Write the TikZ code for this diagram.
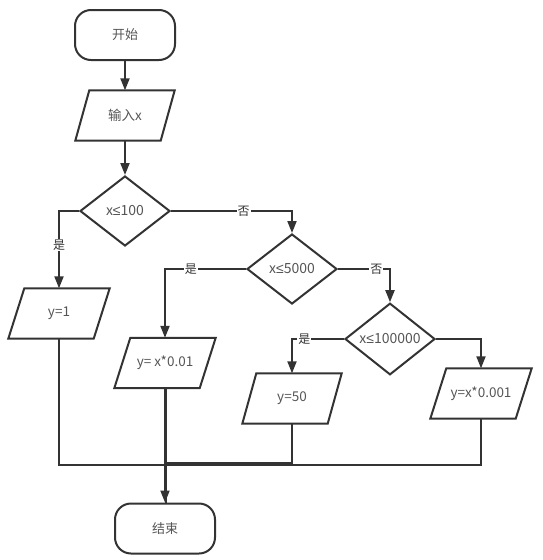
\documentclass[tikz,border=0pt]{standalone}
\usepackage{fontspec}
\setmainfont{Noto Sans CJK SC}
\newfontfamily\symfont{Liberation Sans}
\usetikzlibrary{shapes.geometric,arrows.meta,calc}
\definecolor{ln}{HTML}{333333}
\definecolor{tx}{HTML}{555555}
\newcommand{\lesym}{{\symfont ≤}}
\tikzset{
  line/.style={draw=ln,line width=2pt},
  arr/.style={line,-{Triangle[width=9pt,length=12pt]}},
  term/.style={draw=ln,line width=2pt,rounded corners=16pt,minimum width=100pt,minimum height=50pt,text=tx,font=\fontsize{13}{15}\selectfont},
  decision/.style={draw=ln,line width=2pt,diamond,minimum width=90pt,minimum height=70pt,inner sep=0pt,text=tx,font=\fontsize{14}{16}\selectfont},
  iobox/.style={minimum width=85pt,minimum height=50pt,inner sep=0pt,text=tx,font=\fontsize{13.5}{16}\selectfont},
  lab/.style={fill=white,inner sep=1pt,text=ln,font=\fontsize{12}{14}\selectfont},
}
\newcommand{\paradraw}[2]{\draw[line,line join=miter] ($(#1.north west)+(#2,0)$) -- ($(#1.north east)+(#2,0)$) -- ($(#1.south east)-(#2,0)$) -- ($(#1.south west)-(#2,0)$) -- cycle;}
\begin{document}
\begin{tikzpicture}[x=1pt,y=-1pt]
\useasboundingbox (0,0) rectangle (542,560);
\node[term] (start) at (125,35) {开始};
\node[iobox] (inp) at (125,115.5) {输入x};
\paradraw{inp}{7}
\node[decision] (d1) at (125,211) {x\lesym100};
\node[decision] (d2) at (292,269) {x\lesym5000};
\node[decision] (d3) at (390,339) {x\lesym100000};
\node[iobox] (y1) at (59,313.5) {y=1};
\paradraw{y1}{8}
\node[iobox] (y2) at (165,363) {y= x*0.01};
\paradraw{y2}{8}
\node[iobox] (y3) at (292,398.5) {y=50};
\paradraw{y3}{7}
\node[iobox] (y4) at (481,393.5) {y=x*0.001};
\paradraw{y4}{8}
\node[term] (end) at (165,528.5) {结束};

\coordinate (j1) at (59,465);
\coordinate (j2) at (165,465);
\coordinate (j3) at (292,463);
\coordinate (j4) at (481,465);

\draw[arr] (start) -- (inp);
\draw[arr] (inp) -- (d1);
\draw[arr] (d1.west) -| node[lab,pos=0.72]{是} (y1.north);
\draw[arr] (d1.east) -| node[lab,pos=0.30]{否} (d2.north);
\draw[arr] (d2.west) -| node[lab,pos=0.34]{是} (y2.north);
\draw[arr] (d2.east) -| node[lab,pos=0.37]{否} (d3.north);
\draw[arr] (d3.west) -| node[lab,pos=0.38]{是} (y3.north);
\draw[arr] (d3.east) -| (y4.north);

\draw[line] (y1.south) -- (j1) -- (j4) -- (y4.south);
\draw[line] (y3.south) -- (j3) -- (j3 -| j2);
\draw[line] ($(y2.south)+(0.8,0)$) -- ($(end.north)+(0.8,0)$);
\draw[arr] (y2.south) -- (end.north);
\end{tikzpicture}
\end{document}
